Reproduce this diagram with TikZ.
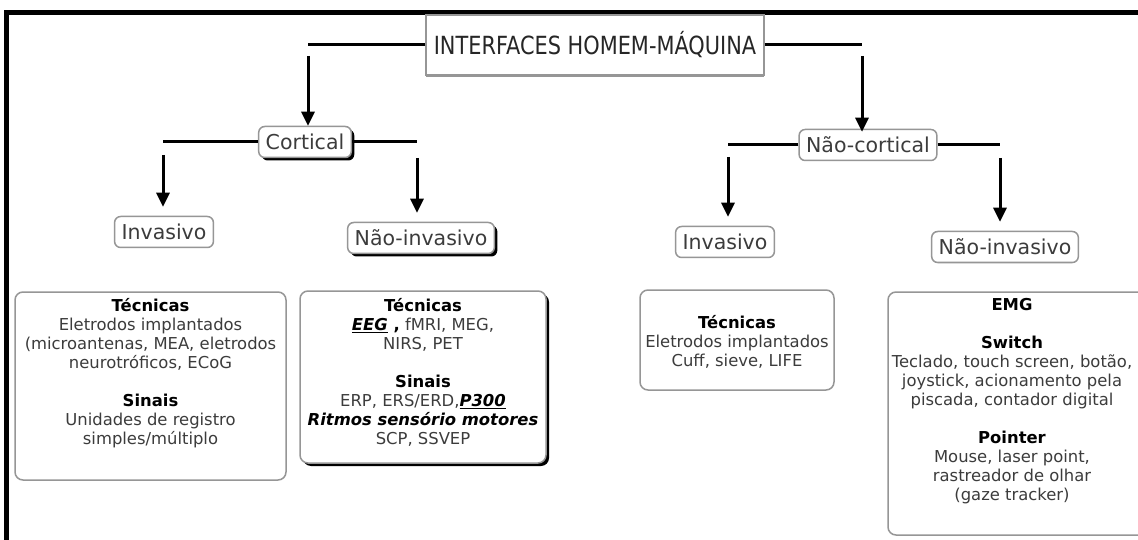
\documentclass[tikz,border=0pt]{standalone}
\usepackage{fontspec}
\setmainfont{DejaVu Sans}
\usepackage{graphicx}
\usetikzlibrary{arrows.meta,shadows,fit}

\definecolor{boxgray}{RGB}{150,150,150}
\definecolor{txtgray}{RGB}{60,60,60}

\begin{document}
\begin{tikzpicture}[x=1pt,y=-1pt,
  level/.style={draw=boxgray,line width=1.5pt,rounded corners=6pt,fill=white,text=txtgray,
    font=\fontsize{20.5}{24}\selectfont,inner xsep=7pt,minimum height=31pt,inner ysep=0pt},
  dark/.style={drop shadow={fill=black,opacity=1,shadow xshift=3pt,shadow yshift=-3pt}},
  infobox/.style={draw=boxgray,line width=1.5pt,rounded corners=8pt,inner sep=0pt},
  boxtxt/.style={align=center,text=txtgray,font=\fontsize{16.4}{19}\selectfont,anchor=north,inner sep=0pt},
  bar/.style={line width=3pt},
  arr/.style={line width=3pt,-{Triangle[length=14pt,width=13pt]}}]
  \useasboundingbox (0,0) rectangle (1138,540);
  \fill[white] (0,0) rectangle (1138,540);
  \draw[line width=5pt] (6,540) -- (6,13) -- (1138,13);

  \node[draw=boxgray,line width=1.3pt,fill=white,minimum width=338pt,minimum height=60pt,
    drop shadow={fill=boxgray,opacity=1,shadow xshift=0pt,shadow yshift=-2pt},
    font=\fontsize{25}{30}\selectfont,text=black!85] (root) at (595,45)
    {\scalebox{0.835}[1]{INTERFACES HOMEM-MÁQUINA}};

  \node[level,dark] (cort) at (305,142) {Cortical};
  \node[level] (ncort) at (868,145) {Não-cortical};
  \node[level] (invA) at (164,232) {Invasivo};
  \node[level,dark] (ninvA) at (421,238) {Não-invasivo};
  \node[level] (invB) at (725,242) {Invasivo};
  \node[level] (ninvB) at (1005,247) {Não-invasivo};

  \coordinate (rootL) at (308,45);
  \coordinate (rootR) at (862,45);
  \coordinate (cortL) at (163,142);
  \coordinate (cortR) at (417,142);
  \coordinate (ncortL) at (728,145);
  \coordinate (ncortR) at (1000,145);

  \draw[bar] (root) -- (rootL);
  \draw[bar] (root) -- (rootR);
  \draw[arr] ([yshift=-11pt]rootL) -- (rootL |- cort.north);
  \draw[arr] ([yshift=-11pt]rootR) -- ([yshift=-3pt]rootR |- ncort.north);
  \draw[bar] (cort) -- (cortL);
  \draw[bar] (cort) -- (cortR);
  \draw[arr] ([yshift=-13pt]cortL) -- ([yshift=9pt]cortL |- invA.north);
  \draw[arr] ([yshift=-16pt]cortR) -- ([yshift=9pt]cortR |- ninvA.north);
  \draw[bar] (ncort) -- (ncortL);
  \draw[bar] (ncort) -- (ncortR);
  \draw[arr] ([yshift=-12pt]ncortL) -- ([yshift=9pt]ncortL |- invB.north);
  \draw[arr] ([yshift=-13pt]ncortR) -- ([yshift=9pt]ncortR |- ninvB.north);

  \node[infobox,fit={(15,292) (286,480)}] (tecA) {};
  \node[infobox,fill=white,dark,fit={(300,291) (546,463)}] (tecB) {};
  \node[infobox,fit={(640,290) (834,390)}] (tecC) {};
  \node[infobox,fit={(888,292) (1150,535)}] (tecD) {};

  \node[boxtxt] (tecAtxt) at (tecA.north |- 0,298) {\textbf{\color{black}Técnicas}\\
    Eletrodos implantados\\(microantenas, MEA, eletrodos\\neurotróficos, ECoG\\[19pt]
    \textbf{\color{black}Sinais}\\Unidades de registro\\simples/múltiplo};
  \node[boxtxt] (tecBtxt) at (tecB.north |- 0,298) {\textbf{\color{black}Técnicas}\\
    {\color{black}\underline{\textbf{\textit{EEG}}}\textbf{ ,}} fMRI, MEG,\\NIRS, PET\\[19pt]
    \textbf{\color{black}Sinais}\\ERP, ERS/ERD,{\color{black}\underline{\textbf{\textit{P300}}}}\\
    {\color{black}\textbf{\textit{Ritmos sensório motores}}}\\SCP, SSVEP};
  \node[boxtxt] (tecCtxt) at (tecC.north |- 0,315) {\textbf{\color{black}Técnicas}\\
    Eletrodos implantados\\Cuff, sieve, LIFE};
  \node[boxtxt] (tecDtxt) at (1012,298) {\textbf{\color{black}EMG}\\[19pt]
    \textbf{\color{black}Switch}\\Teclado, touch screen, botão,\\joystick, acionamento pela\\
    piscada, contador digital\\[19pt]
    \textbf{\color{black}Pointer}\\Mouse, laser point,\\rastreador de olhar\\(gaze tracker)};
\end{tikzpicture}
\end{document}
